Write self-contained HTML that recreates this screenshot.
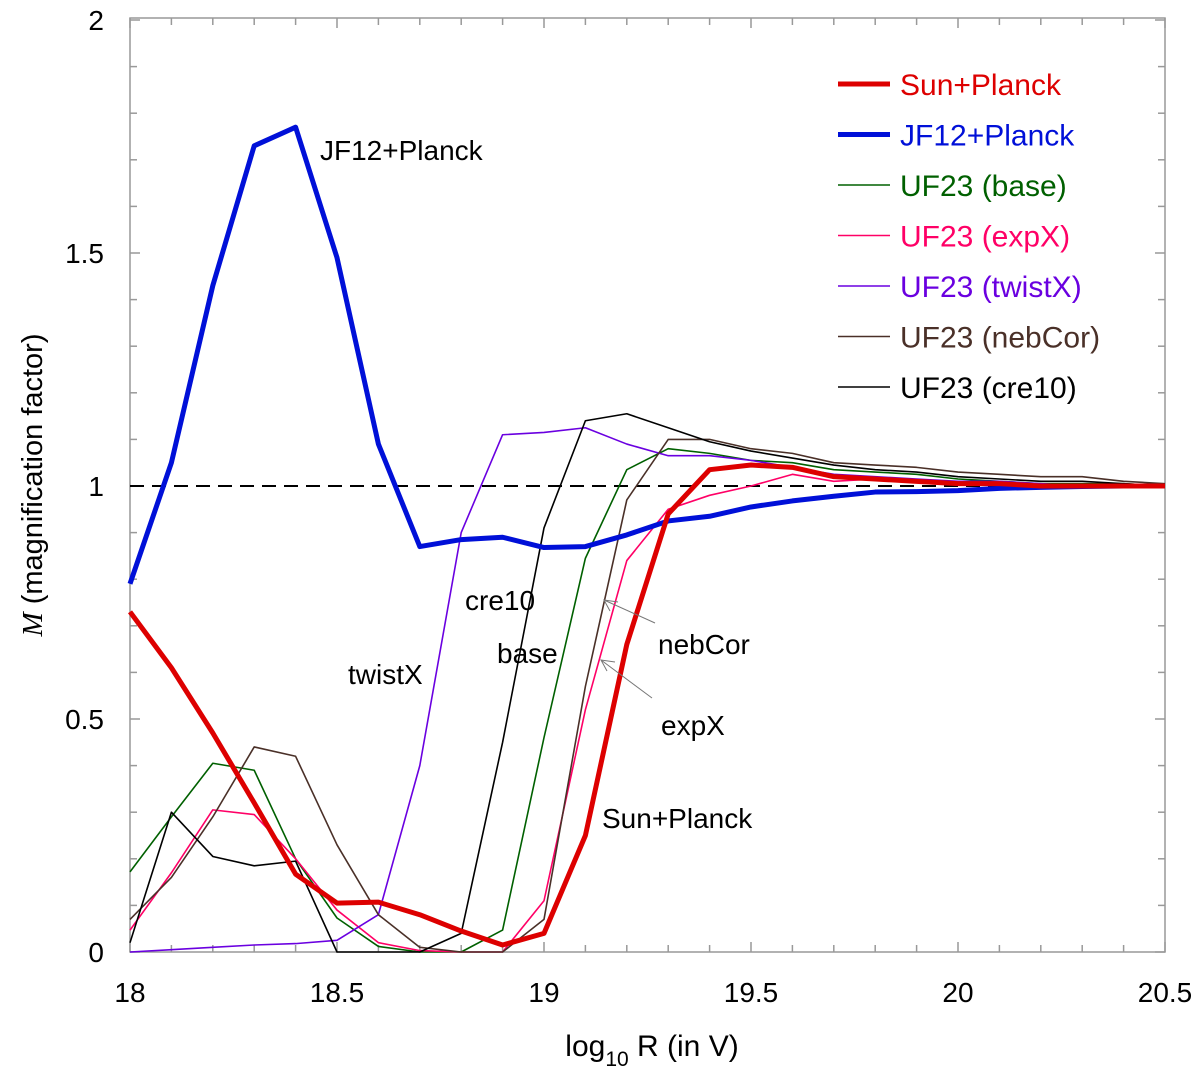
<!DOCTYPE html>
<html><head><meta charset="utf-8"><style>
body{margin:0;background:#fff;}
svg{display:block;font-family:"Liberation Sans",sans-serif;}
</style></head><body>
<svg id="chart" width="1200" height="1083" viewBox="0 0 1200 1083">
<g id="frame"></g><g id="series"></g><g id="annot"></g><g id="legend"></g>
</svg>
<script>
const xValues = [18.0,18.1,18.2,18.3,18.4,18.5,18.6,18.7,18.8,18.9,19.0,19.1,19.2,19.3,19.4,19.5,19.6,19.7,19.8,19.9,20.0,20.1,20.2,20.3,20.4,20.5];
const sunPlanck = [0.73,0.61,0.47,0.32,0.167,0.105,0.107,0.08,0.045,0.015,0.04,0.25,0.66,0.94,1.035,1.045,1.04,1.02,1.015,1.01,1.005,1.005,1.0,1.0,1.0,1.0];
const jf12Planck = [0.79,1.05,1.43,1.73,1.77,1.49,1.09,0.87,0.885,0.89,0.868,0.87,0.895,0.925,0.935,0.955,0.968,0.978,0.987,0.988,0.99,0.995,0.997,0.999,1.0,1.0];
const uf23Base = [0.172,0.29,0.405,0.39,0.2,0.073,0.012,0.0,0.0,0.047,0.46,0.845,1.035,1.08,1.07,1.055,1.05,1.035,1.03,1.025,1.015,1.01,1.005,1.005,1.005,1.0];
const uf23ExpX = [0.047,0.17,0.305,0.295,0.2,0.09,0.02,0.003,0.0,0.0,0.11,0.52,0.84,0.95,0.98,1.0,1.025,1.01,1.015,1.01,1.005,1.005,1.0,1.0,1.0,1.0];
const uf23TwistX = [0.0,0.005,0.01,0.015,0.018,0.025,0.08,0.4,0.9,1.11,1.115,1.125,1.09,1.065,1.065,1.055,1.04,1.025,1.02,1.015,1.01,1.01,1.005,1.0,1.0,1.0];
const uf23NebCor = [0.07,0.16,0.29,0.44,0.42,0.23,0.08,0.01,0.0,0.0,0.07,0.57,0.97,1.1,1.1,1.08,1.07,1.05,1.045,1.04,1.03,1.025,1.02,1.02,1.01,1.005];
const uf23Cre10 = [0.02,0.3,0.205,0.185,0.195,0.0,0.0,0.0,0.04,0.45,0.91,1.14,1.155,1.125,1.095,1.075,1.06,1.045,1.035,1.03,1.02,1.015,1.01,1.01,1.005,1.0];
const xTickLabels = ["18","18.5","19","19.5","20","20.5"];
const yTickLabels = ["0","0.5","1","1.5","2"];

const NS="http://www.w3.org/2000/svg";
const L=130,R=1165,T=18,B=952;
function xs(v){return L+(v-18)/2.5*(R-L);}
function ys(v){return B-v/2*(B-20);}
function mk(tag,attrs,parent){const e=document.createElementNS(NS,tag);for(const k in attrs)e.setAttribute(k,attrs[k]);parent.appendChild(e);return e;}
const frame=document.getElementById('frame');
const f=mk('rect',{x:L,y:T,width:R-L,height:B-T,fill:'none',stroke:'#999','stroke-width':1.5},frame);


for(let i=0;i<=25;i++){const x=xs(18+i*0.1);const len=(i%5==0)?10:7;
 mk('line',{x1:x,y1:B,x2:x,y2:B-len,stroke:'#999','stroke-width':1.5},frame);
 mk('line',{x1:x,y1:T,x2:x,y2:T+len,stroke:'#999','stroke-width':1.5},frame);}
for(let i=0;i<=20;i++){const y=ys(i*0.1);const len=(i%5==0)?10:7;
 mk('line',{x1:L,y1:y,x2:L+len,y2:y,stroke:'#999','stroke-width':1.5},frame);
 mk('line',{x1:R,y1:y,x2:R-len,y2:y,stroke:'#999','stroke-width':1.5},frame);}
xTickLabels.forEach((t,i)=>{const e=mk('text',{x:xs(18+i*0.5),y:1002,'font-size':28,'text-anchor':'middle',fill:'#000'},frame);e.textContent=t;
 
 });
yTickLabels.forEach((t,i)=>{const e=mk('text',{x:104,y:ys(i*0.5)+10,'font-size':28,'text-anchor':'end',fill:'#000'},frame);e.textContent=t;
 
 });
const xt=mk('text',{x:652,y:1056,'font-size':30,'text-anchor':'middle'},frame);
xt.innerHTML='log<tspan font-size="21" dy="10">10</tspan><tspan dy="-10"> R (in V)</tspan>';


const yt=mk('text',{x:0,y:0,'font-size':29,'text-anchor':'middle',transform:'translate(42,485) rotate(-90)'},frame);
yt.innerHTML='<tspan font-family="Liberation Serif" font-style="italic">M</tspan> (magnification factor)';


const ref=mk('line',{x1:L,y1:ys(1),x2:R,y2:ys(1),stroke:'#000','stroke-width':2,'stroke-dasharray':'14,8'},frame);



const seriesDefs=[
 ['uf23-base',uf23Base,'#006000',1.6,'UF23 (base)'],
 ['uf23-expx',uf23ExpX,'#ff0066',1.6,'UF23 (expX)'],
 ['uf23-twistx',uf23TwistX,'#6a00e0',1.6,'UF23 (twistX)'],
 ['uf23-nebcor',uf23NebCor,'#4a3028',1.6,'UF23 (nebCor)'],
 ['uf23-cre10',uf23Cre10,'#000000',1.6,'UF23 (cre10)'],
 ['jf12-planck',jf12Planck,'#0010d8',5,'JF12+Planck'],
 ['sun-planck',sunPlanck,'#dd0000',5,'Sun+Planck']];
const sg=document.getElementById('series');
seriesDefs.forEach(d=>{const pts=d[1].map((v,i)=>xs(xValues[i])+','+ys(v)).join(' ');
 const p=mk('polyline',{points:pts,fill:'none',stroke:d[2],'stroke-width':d[3],'stroke-linejoin':'round'},sg);
 
 });

const legOrder=[6,5,0,1,2,3,4];
const lg=document.getElementById('legend');
const legColors=['#dd0000','#0010d8','#006000','#ff0066','#6a00e0','#4a3028','#000'];
legOrder.forEach((si,k)=>{const d=seriesDefs[si];const y=84+k*50.5;
 const g=mk('g',{},lg);
 
 
 mk('line',{x1:838,y1:y,x2:890,y2:y,stroke:d[2],'stroke-width':d[3]},g);
 const t=mk('text',{x:900,y:y+11,'font-size':30,fill:legColors[k],'textLength':null},g);t.textContent=d[4];});

const an=document.getElementById('annot');
[['JF12+Planck',320,160],['cre10',465,610],['base',497,663],['twistX',348,684],['nebCor',658,654],['expX',661,735],['Sun+Planck',602,828]].forEach(a=>{
 const t=mk('text',{x:a[1],y:a[2],'font-size':28,fill:'#000'},an);t.textContent=a[0];
 
 });
[[655,623,604,600],[652,698,601,660]].forEach(l=>{
 const e=mk('line',{x1:l[0],y1:l[1],x2:l[2],y2:l[3],stroke:'#777','stroke-width':1},an);
 
 
 mk('polyline',{points:(l[2]+14)+','+(l[3]+2)+' '+l[2]+','+l[3]+' '+(l[2]+6)+','+(l[3]+11),fill:'none',stroke:'#777','stroke-width':1},an);});
</script>
</body></html>
